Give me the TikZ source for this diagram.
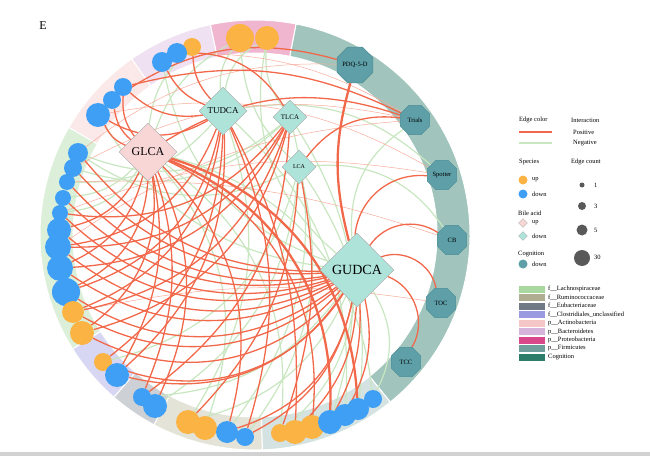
\documentclass[tikz,border=0pt]{standalone}
\usepackage{fontspec}
\setmainfont{Liberation Serif}
\usepackage{xcolor}
\usepackage{tikz}
\usetikzlibrary{shapes.geometric, positioning, calc}

\definecolor{edgered}{HTML}{F2684A}
\definecolor{edgegreen}{HTML}{C8E6C0}
\definecolor{up}{HTML}{FBB344}
\definecolor{down}{HTML}{3F9FF5}
\definecolor{bileup}{HTML}{F9D6D6}
\definecolor{biledown}{HTML}{AEE3DA}
\definecolor{cogfill}{HTML}{5E9FA8}
\definecolor{cogborder}{HTML}{4D8C95}
\definecolor{lachno}{HTML}{A8D8A0}
\definecolor{rumino}{HTML}{B0AE90}
\definecolor{eubac}{HTML}{707A85}
\definecolor{clostr}{HTML}{9A9AE0}
\definecolor{actino}{HTML}{F4C6C6}
\definecolor{bacter}{HTML}{D6B4DC}
\definecolor{proteo}{HTML}{D9488A}
\definecolor{firmic}{HTML}{6F9E9C}
\definecolor{cognition}{HTML}{2E7D6A}

\pgfdeclarelayer{ring}
\pgfdeclarelayer{edges}
\pgfsetlayers{ring,edges,main}

\begin{document}
\begin{tikzpicture}[x=1pt, y=1pt,
    species/.style={circle, inner sep=0pt},
    bile/.style={diamond, draw=gray!70, aspect=1, inner sep=0pt},
    cog/.style={regular polygon, regular polygon sides=8, draw=cogborder, fill=cogfill, inner sep=0pt, minimum size=32pt, font=\fontsize{6.5}{7.5}\selectfont},
    posedge/.style={draw=edgered, line width=1.3pt},
    thickedge/.style={draw=edgered, line width=2.3pt},
    thinedge/.style={draw=edgered!55, line width=0.5pt},
    negedge/.style={draw=edgegreen, line width=1.2pt},
    legtext/.style={anchor=west, inner sep=0pt, font=\fontsize{6.5}{7.5}\selectfont}]

    \useasboundingbox (0,0) rectangle (650,456);
    \fill[gray!35] (0,0) rectangle (650,4);
    \node[font=\fontsize{12}{14}\selectfont] (panel) at (43,430) {E};

    \coordinate (c) at (255,221);

    % outer ring
    \begin{pgfonlayer}{ring}
    \foreach \a/\b/\col in {-51/79/cognition!45, 79/102/proteo!40, 102/125/bacter!40, 125/150/actino!40, 150/212/lachno!40, 212/229/clostr!40, 229/242/eubac!35, 242/272/rumino!35, 272/309/firmic!30}
      \fill[\col, draw=white, line width=1pt] ($(c)+(\a:215)$) arc[start angle=\a, end angle=\b, radius=215] -- ($(c)+(\b:182)$) arc[start angle=\b, end angle=\a, radius=182] -- cycle;
    \end{pgfonlayer}

    % species
    \foreach \n/\x/\y/\r/\col in {1/240/418/14/up, 2/267/418/12/up, 3/192/409/9/up, 4/177/403/10/down, 5/162/394/10/down, 6/123/369/9/down, 7/112/356/9/down, 8/98/341/12/down, 9/78/303/10/down, 10/73/288/9/down, 11/67/274/8/down, 12/63/258/8/down, 13/60/243/8/down, 14/59/226/12/down, 15/58/209/13/down, 16/60/188/13/down, 17/66/164/14/down, 18/73/144/11/up, 19/82/123/12/up, 20/103/94/9/up, 21/117/81/12/down, 22/142/59/9/down, 23/155/50/12/down, 24/188/34/12/up, 25/205/28/12/up, 26/227/24/11/down, 27/245/19/9/down, 28/280/23/9/up, 29/295/24/12/up, 30/312/29/12/up, 31/330/34/12/down, 32/345/41/11/down, 33/358/47/11/down, 34/373/57/9/down}
      \node[species, fill=\col, minimum size={2*\r pt}] (s\n) at (\x,\y) {};

    % bile acids
    \node[bile, fill=bileup, minimum size=58pt, font=\fontsize{12}{14}\selectfont] (glca) at (148,304) {GLCA};
    \node[bile, fill=biledown, minimum size=48pt, font=\fontsize{9}{10}\selectfont] (tudca) at (223,345) {TUDCA};
    \node[bile, fill=biledown, minimum size=34pt, font=\fontsize{7}{8}\selectfont] (tlca) at (290,339) {TLCA};
    \node[bile, fill=biledown, minimum size=34pt, font=\fontsize{6}{7}\selectfont] (lca) at (299,289) {LCA};
    \node[bile, fill=biledown, minimum size=74pt, font=\fontsize{14}{16}\selectfont] (gudca) at (357,186) {GUDCA};

    % cognition
    \node[cog] (pdq) at (355,391) {PDQ-5-D};
    \node[cog] (trials) at (415,336) {Trials};
    \node[cog] (spotter) at (442,281) {Spotter};
    \node[cog] (cb) at (452,216) {CB};
    \node[cog] (toc) at (441,153) {TOC};
    \node[cog] (tcc) at (406,94) {TCC};

    \begin{pgfonlayer}{edges}
    \foreach \a/\b/\k in {gudca/s2/30, gudca/s5/30, gudca/s8/25, gudca/s22/25, gudca/s24/25, gudca/s28/20, gudca/s34/30, gudca/trials/30, glca/s1/20, glca/s3/20, glca/s12/20, glca/s13/25, glca/s25/30, glca/s28/30, glca/s34/35, tudca/s1/20, tudca/s2/25, tudca/s11/25, tudca/s24/25, tudca/s32/25, tudca/spotter/25, tlca/s2/20, tlca/s10/30, tlca/s26/25, tlca/s31/25, tlca/s9/30, lca/s9/30, lca/s20/30, lca/s23/25, lca/s27/25, lca/s33/20, lca/cb/30, lca/s1/20}
      \draw[negedge] (\a) to[bend left=\k] (\b);
    \foreach \a/\b/\k in {trials/s10/-20, trials/s15/-15, spotter/s13/-15, cb/s11/-10, toc/s18/-10, pdq/s9/-20, spotter/s8/-20, trials/s4/-15}
      \draw[thinedge] (\a) to[bend left=\k] (\b);
    \foreach \a/\b/\k in {gudca/s9/25, gudca/s10/25, gudca/s11/28, gudca/s12/28, gudca/s13/30, gudca/s14/30, gudca/s15/32, gudca/s16/32, gudca/s17/35, gudca/s18/35, gudca/s19/38, gudca/s20/40, gudca/s21/35, gudca/s26/30, gudca/s27/25, gudca/s29/20, gudca/s31/15, gudca/s32/20, gudca/spotter/45, gudca/cb/45, gudca/toc/50, gudca/tcc/50, glca/s6/20, glca/s7/20, glca/s8/20, glca/s14/25, glca/s16/25, glca/s17/30, glca/s19/30, glca/s21/20, glca/s22/20, glca/s23/25, glca/s26/30, glca/s30/35, glca/trials/25, tudca/s3/20, tudca/s5/20, tudca/s6/25, tudca/s8/30, tudca/s15/30, tudca/s17/30, tudca/s18/30, tudca/s20/25, tudca/s21/25, tudca/s27/20, tudca/s29/15, tlca/s13/30, tlca/s15/30, tlca/s16/30, tlca/s18/30, tlca/s19/30, tlca/s22/25, tlca/s4/-30, lca/s24/20, lca/s28/15, lca/trials/30, pdq/s7/-25, trials/s6/-20}
      \draw[posedge] (\a) to[bend left=\k] (\b);
    \foreach \a/\b/\k in {glca/s31/35, glca/s33/35, gudca/pdq/15}
      \draw[thickedge] (\a) to[bend left=\k] (\b);
    \end{pgfonlayer}

    % legend
    \node[legtext] (edgecolor) at (519,336) {Edge color};
    \node[legtext] (interaction) at (571,336) {Interaction};
    \coordinate (lp1) at (519,324);
    \coordinate (lp2) at (552,324);
    \draw[edgered, line width=1.5pt] (lp1) -- (lp2);
    \node[legtext] (positive) at (573,324) {Positive};
    \coordinate (ln1) at (519,313);
    \coordinate (ln2) at (552,313);
    \draw[edgegreen, line width=1.5pt] (ln1) -- (ln2);
    \node[legtext] (negative) at (573,313) {Negative};

    \node[legtext] (specieshead) at (519,294) {Species};
    \node[legtext] (counthead) at (571,294) {Edge count};
    \node[species, fill=up, minimum size=9pt] (lsup) at (523,276) {};
    \node[legtext] at (532,276) {up};
    \node[species, fill=down, minimum size=9pt] (lsdown) at (523,262) {};
    \node[legtext] at (532,262) {down};

    \node[legtext] (bilehead) at (518,243) {Bile acid};
    \node[diamond, draw=gray!60, fill=bileup, minimum size=9pt, inner sep=0pt] (lbup) at (523,233) {};
    \node[legtext] at (532,233) {up};
    \node[diamond, draw=gray!60, fill=biledown, minimum size=9pt, inner sep=0pt] (lbdown) at (523,220) {};
    \node[legtext] at (532,220) {down};

    \node[legtext] (coghead) at (518,202) {Cognition};
    \node[species, fill=cogfill, minimum size=9pt] (lcdown) at (523,192) {};
    \node[legtext] at (532,192) {down};

    \foreach \i/\r/\t in {1/2.5/1, 2/4/3, 3/5.5/5, 4/8/30}
      \node[species, fill=gray!70!black, minimum size={2*\r pt}] (cnt\i) at (582,{271-(\i==2)*21-(\i==3)*45-(\i==4)*73}) {};
    \node[legtext] at (594,271) {1};
    \node[legtext] at (594,250) {3};
    \node[legtext] at (594,226) {5};
    \node[legtext] at (594,199) {30};

    \foreach \i/\col/\txt in {1/lachno/f\_\_Lachnospiraceae, 2/rumino/f\_\_Ruminococcaceae, 3/eubac/f\_\_Eubacteriaceae, 4/clostr/f\_\_Clostridiales\_unclassified, 5/actino/p\_\_Actinobacteria, 6/bacter/p\_\_Bacteroidetes, 7/proteo/p\_\_Proteobacteria, 8/firmic/p\_\_Firmicutes, 9/cognition/Cognition}
    {
      \node[fill=\col, minimum width=26pt, minimum height=7pt, inner sep=0pt, anchor=west] (sw\i) at (519,{167-(\i-1)*8.5}) {};
      \node[legtext] (lt\i) at (548,{167-(\i-1)*8.5}) {\txt};
    }

\end{tikzpicture}
\end{document}
